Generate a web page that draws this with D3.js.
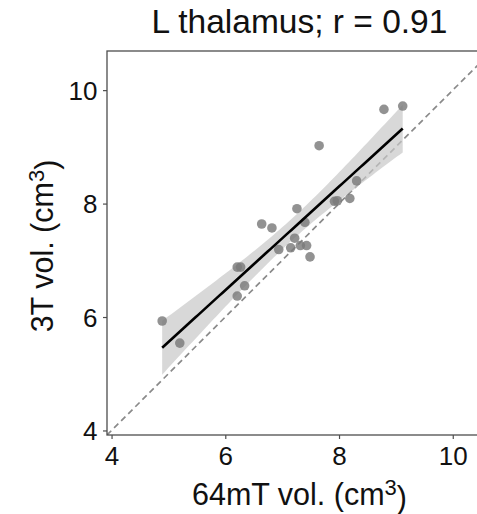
<!DOCTYPE html>
<html>
<head>
<meta charset="utf-8">
<script src="https://cdn.jsdelivr.net/npm/d3@7"></script>
<style>
  html, body { margin: 0; padding: 0; background: #fff; }
  svg { display: block; font-family: "Liberation Sans", Arial, sans-serif; }
</style>
</head>
<body>
<svg id="chart" width="477" height="514"></svg>
<script>
// Left thalamus volumes: 64mT vs 3T (cm^3)
const vol64mT = [4.89, 5.20, 6.21, 6.27, 6.21, 6.34, 6.64, 6.82, 6.94, 7.15, 7.22, 7.26,
                 7.32, 7.40, 7.43, 7.49, 7.65, 7.92, 7.97, 8.19, 8.31, 8.79, 9.12];
const vol3T   = [5.93, 5.54, 6.88, 6.88, 6.37, 6.55, 7.64, 7.57, 7.19, 7.22, 7.39, 7.91,
                 7.26, 7.67, 7.26, 7.06, 9.02, 8.04, 8.05, 8.09, 8.40, 9.66, 9.72];
const tickValues = [4, 6, 8, 10];
const axisDomain = [3.92, 10.69];
const titleText = "L thalamus; r = 0.91";
const T_CRIT = 2.08; // two-sided 95% t quantile, df = n - 2 = 21

const svg = d3.select("#chart");
const plot = { left: 107, top: 51, bottom: 435, right: 492 };

const x = d3.scaleLinear().domain(axisDomain).range([plot.left, plot.right]);
const y = d3.scaleLinear().domain(axisDomain).range([plot.bottom, plot.top]);

// clip everything to the panel
svg.append("defs").append("clipPath").attr("id", "panel")
  .append("rect")
  .attr("x", plot.left).attr("y", plot.top)
  .attr("width", plot.right - plot.left).attr("height", plot.bottom - plot.top);

const g = svg.append("g").attr("clip-path", "url(#panel)");

// ordinary least squares fit with 95% confidence band
const pts = vol64mT.map((v, i) => ({ x: v, y: vol3T[i] }));
const n = pts.length;
const mx = d3.mean(pts, d => d.x), my = d3.mean(pts, d => d.y);
const sxx = d3.sum(pts, d => (d.x - mx) ** 2);
const sxy = d3.sum(pts, d => (d.x - mx) * (d.y - my));
const slope = sxy / sxx, intercept = my - slope * mx;
const sse = d3.sum(pts, d => (d.y - (intercept + slope * d.x)) ** 2);
const s = Math.sqrt(sse / (n - 2));
const [xmin, xmax] = d3.extent(vol64mT);
const grid = d3.range(0, 81).map(i => xmin + (xmax - xmin) * i / 80);
const band = grid.map(xv => {
  const fit = intercept + slope * xv;
  const se = s * Math.sqrt(1 / n + (xv - mx) ** 2 / sxx);
  return { x: xv, fit, lo: fit - T_CRIT * se, hi: fit + T_CRIT * se };
});

// identity line
g.append("line")
  .attr("x1", x(axisDomain[0])).attr("y1", y(axisDomain[0]))
  .attr("x2", x(axisDomain[1])).attr("y2", y(axisDomain[1]))
  .attr("stroke", "#8a8a8a").attr("stroke-width", 1.7)
  .attr("stroke-dasharray", "6,4");

// confidence band
g.append("path").datum(band)
  .attr("d", d3.area().x(d => x(d.x)).y0(d => y(d.lo)).y1(d => y(d.hi)))
  .attr("fill", "#c8c8c8").attr("fill-opacity", 0.7);

// points
g.selectAll("circle").data(pts).join("circle")
  .attr("cx", d => x(d.x)).attr("cy", d => y(d.y))
  .attr("r", 4.8)
  .attr("fill", "#7a7a7a").attr("fill-opacity", 0.82);

// regression line
g.append("path").datum(band)
  .attr("d", d3.line().x(d => x(d.x)).y(d => y(d.fit)))
  .attr("fill", "none").attr("stroke", "#000").attr("stroke-width", 2.6);

// axes
const axisColor = "#4d4d4d";
const xAxis = svg.append("g").attr("transform", `translate(0,${plot.bottom})`)
  .call(d3.axisBottom(x).tickValues(tickValues).tickSize(4).tickFormat(d3.format("d")));
const yAxis = svg.append("g").attr("transform", `translate(${plot.left},0)`)
  .call(d3.axisLeft(y).tickValues(tickValues).tickSize(4).tickPadding(5.5).tickFormat(d3.format("d")));
[xAxis, yAxis].forEach(a => {
  a.select(".domain").remove();
  a.selectAll(".tick line").attr("stroke", axisColor).attr("stroke-width", 1.2);
  a.selectAll(".tick text").attr("fill", "#111").style("font-size", "26px");
});
xAxis.selectAll(".tick text").attr("y", 30).attr("dy", 0);
yAxis.selectAll(".tick text").attr("dy", "0.36em");

// panel frame
svg.append("rect")
  .attr("x", plot.left).attr("y", plot.top)
  .attr("width", plot.right - plot.left).attr("height", plot.bottom - plot.top)
  .attr("fill", "none").attr("stroke", axisColor).attr("stroke-width", 1.3);

// title
svg.append("text")
  .attr("x", (plot.left + plot.right) / 2).attr("y", 33)
  .attr("text-anchor", "middle").attr("fill", "#111")
  .style("font-size", "33.5px").text(titleText);

// axis titles with superscript
const xt = svg.append("text")
  .attr("x", (plot.left + plot.right) / 2).attr("y", 504.5)
  .attr("text-anchor", "middle").attr("fill", "#111").style("font-size", "30.5px");
xt.append("tspan").text("64mT vol. (cm");
xt.append("tspan").attr("dy", "-0.42em").style("font-size", "22px").text("3");
xt.append("tspan").attr("dy", "0.42em").text(")");

const yt = svg.append("text")
  .attr("transform", `translate(53,${(plot.top + plot.bottom) / 2 + 3}) rotate(-90)`)
  .attr("text-anchor", "middle").attr("fill", "#111").style("font-size", "30.5px");
yt.append("tspan").text("3T vol. (cm");
yt.append("tspan").attr("dy", "-0.42em").style("font-size", "22px").text("3");
yt.append("tspan").attr("dy", "0.42em").text(")");
</script>
</body>
</html>
